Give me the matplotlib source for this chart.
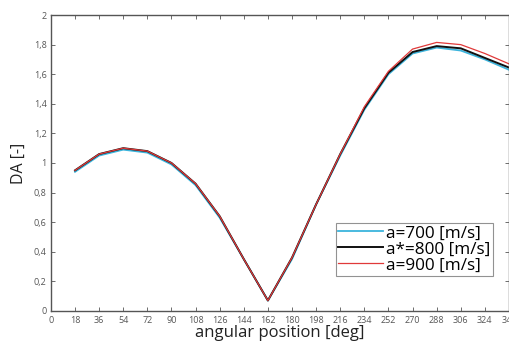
import matplotlib
matplotlib.use("Agg")
import matplotlib.pyplot as plt

# Data
angle = [18, 36, 54, 72, 90, 108, 126, 144, 162, 180, 198, 216, 234, 252, 270, 288, 306, 324, 342]
da_700 = [0.94, 1.05, 1.09, 1.07, 0.99, 0.85, 0.63, 0.35, 0.07, 0.35, 0.72, 1.05, 1.36, 1.60, 1.74, 1.78, 1.76, 1.70, 1.63]
da_800 = [0.95, 1.06, 1.10, 1.08, 1.00, 0.86, 0.64, 0.35, 0.07, 0.36, 0.72, 1.06, 1.37, 1.61, 1.75, 1.79, 1.775, 1.71, 1.645]
da_900 = [0.95, 1.06, 1.10, 1.08, 1.00, 0.86, 0.64, 0.35, 0.07, 0.36, 0.72, 1.06, 1.38, 1.62, 1.77, 1.815, 1.80, 1.74, 1.67]
xticks = list(range(0, 343, 18))
yticks = [0, 0.2, 0.4, 0.6, 0.8, 1, 1.2, 1.4, 1.6, 1.8, 2]

plt.rcParams["font.family"] = ["Open Sans", "DejaVu Sans"]

fig = plt.figure(figsize=(5.09, 3.42), dpi=100, facecolor="white")
ax = fig.add_axes([0.1, 0.091, 0.9, 0.865])

ax.plot(angle, da_700, color="#3cb4dc", lw=1.3, label="a=700 [m/s]")
ax.plot(angle, da_800, color="#111111", lw=1.4, label="a*=800 [m/s]")
ax.plot(angle, da_900, color="#e03a3a", lw=0.9, label="a=900 [m/s]")

ax.set_xlim(0, 342)
ax.set_ylim(0, 2)
ax.set_xticks(xticks)
ax.set_xticklabels([str(t) for t in xticks])
ax.set_yticks(yticks)
ax.set_yticklabels([f"{t:g}".replace(".", ",") for t in yticks])
ax.tick_params(direction="in", top=True, right=True, length=3, width=0.6,
               labelsize=6.5, colors="#555555", pad=3)
ax.tick_params(axis="x", pad=4)

for spine in ax.spines.values():
    spine.set_color("#555555")
    spine.set_linewidth(1.0)

ax.set_xlabel("angular position [deg]", fontsize=12, color="#222222", labelpad=0)
ax.set_ylabel("DA [-]", fontsize=11.5, color="#222222", labelpad=5)

leg = ax.legend(loc="lower right", bbox_to_anchor=(0.965, 0.118), fontsize=12.3,
                frameon=True, fancybox=False, handlelength=2.6, handletextpad=0.2,
                borderpad=0.15, labelspacing=0.0, borderaxespad=0)
leg.get_frame().set_edgecolor("#777777")
leg.get_frame().set_linewidth(0.8)

fig.savefig("out.png", dpi=100)
